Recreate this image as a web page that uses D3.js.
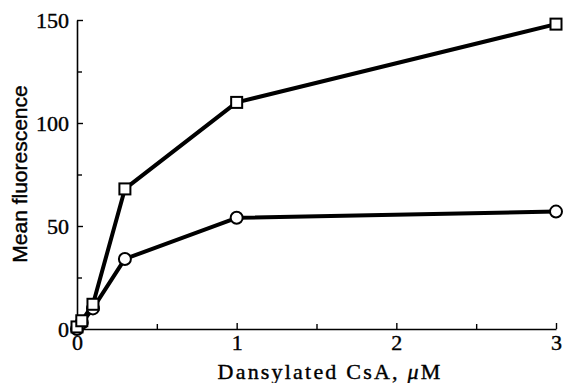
<!DOCTYPE html>
<html>
<head>
<meta charset="utf-8">
<script src="https://cdn.jsdelivr.net/npm/d3@7"></script>
<style>
  body { margin: 0; background: #fff; }
  .tick text { font-family: "Liberation Serif", "Times New Roman", serif; font-size: 22px; fill: #000; stroke: #000; stroke-width: 0.4px; }
</style>
</head>
<body>
<svg id="chart" width="566" height="383"></svg>
<script>
// concentrations (uM)
const conc = [0, 0.03, 0.1, 0.3, 1, 3];
// mean fluorescence, square series
const squareVals = [1, 4, 12, 68, 110, 148];
// mean fluorescence, circle series
const circleVals = [0, 3, 10, 34, 54, 57];
const xMajor = [0, 1, 2, 3];
const xMinor = [0.5, 1.5, 2.5];
const yMajor = [0, 50, 100, 150];
const yMinor = [25, 75, 125];

const svg = d3.select("#chart");
const x = d3.scaleLinear().domain([0, 3]).range([77, 556]);
const y = d3.scaleLinear().domain([0, 150]).range([329, 20]);

// x axis
svg.append("g").attr("transform", "translate(0," + y(0) + ")")
  .call(d3.axisBottom(x).tickValues(xMajor).tickFormat(d3.format("d"))
    .tickSizeInner(-6).tickSizeOuter(0).tickPadding(5));
svg.append("g").attr("transform", "translate(0," + y(0) + ")")
  .call(d3.axisBottom(x).tickValues(xMinor).tickFormat("").tickSizeInner(-5).tickSizeOuter(0))
  .select(".domain").remove();

// y axis
svg.append("g").attr("transform", "translate(" + x(0) + ",0)")
  .call(d3.axisLeft(y).tickValues(yMajor).tickFormat(d3.format("d"))
    .tickSizeInner(-6).tickSizeOuter(0).tickPadding(8));
svg.append("g").attr("transform", "translate(" + x(0) + ",0)")
  .call(d3.axisLeft(y).tickValues(yMinor).tickFormat("").tickSizeInner(-5).tickSizeOuter(0))
  .select(".domain").remove();

svg.selectAll(".domain").attr("stroke", "#000").attr("stroke-width", 1.6);
svg.selectAll(".tick line").attr("stroke", "#000").attr("stroke-width", 1.4);

// axis titles
svg.append("text")
  .attr("transform", "translate(27," + 174 + ") rotate(-90)")
  .attr("text-anchor", "middle")
  .style("font-family", "'Liberation Sans', Arial, sans-serif")
  .style("font-size", "21px")
  .style("stroke", "#000")
  .style("stroke-width", "0.4px")
  .text("Mean fluorescence");

svg.append("text")
  .attr("x", 330).attr("y", 379)
  .attr("text-anchor", "middle")
  .style("font-family", "'Liberation Serif', 'Times New Roman', serif")
  .style("font-size", "22px")
  .style("letter-spacing", "2.2px")
  .style("stroke", "#000")
  .style("stroke-width", "0.4px")
  .html("Dansylated CsA, <tspan font-style='italic'>μ</tspan>M");

const line = d3.line().x(d => x(d[0])).y(d => y(d[1]));
const sqData = conc.map((c, i) => [c, squareVals[i]]);
const ciData = conc.map((c, i) => [c, circleVals[i]]);

[sqData, ciData].forEach(data => {
  svg.append("path")
    .datum(data)
    .attr("d", line)
    .attr("fill", "none")
    .attr("stroke", "#000")
    .attr("stroke-width", 4)
    .attr("stroke-linejoin", "round");
});

svg.selectAll("circle.pt")
  .data(ciData)
  .enter()
  .append("circle")
  .attr("class", "pt")
  .attr("cx", d => x(d[0]))
  .attr("cy", d => y(d[1]))
  .attr("r", 6)
  .attr("fill", "#fff")
  .attr("stroke", "#000")
  .attr("stroke-width", 2);

svg.selectAll("rect.pt")
  .data(sqData)
  .enter()
  .append("rect")
  .attr("class", "pt")
  .attr("x", d => x(d[0]) - 5.5)
  .attr("y", d => y(d[1]) - 5.5)
  .attr("width", 11)
  .attr("height", 11)
  .attr("fill", "#fff")
  .attr("stroke", "#000")
  .attr("stroke-width", 2);
</script>
</body>
</html>
